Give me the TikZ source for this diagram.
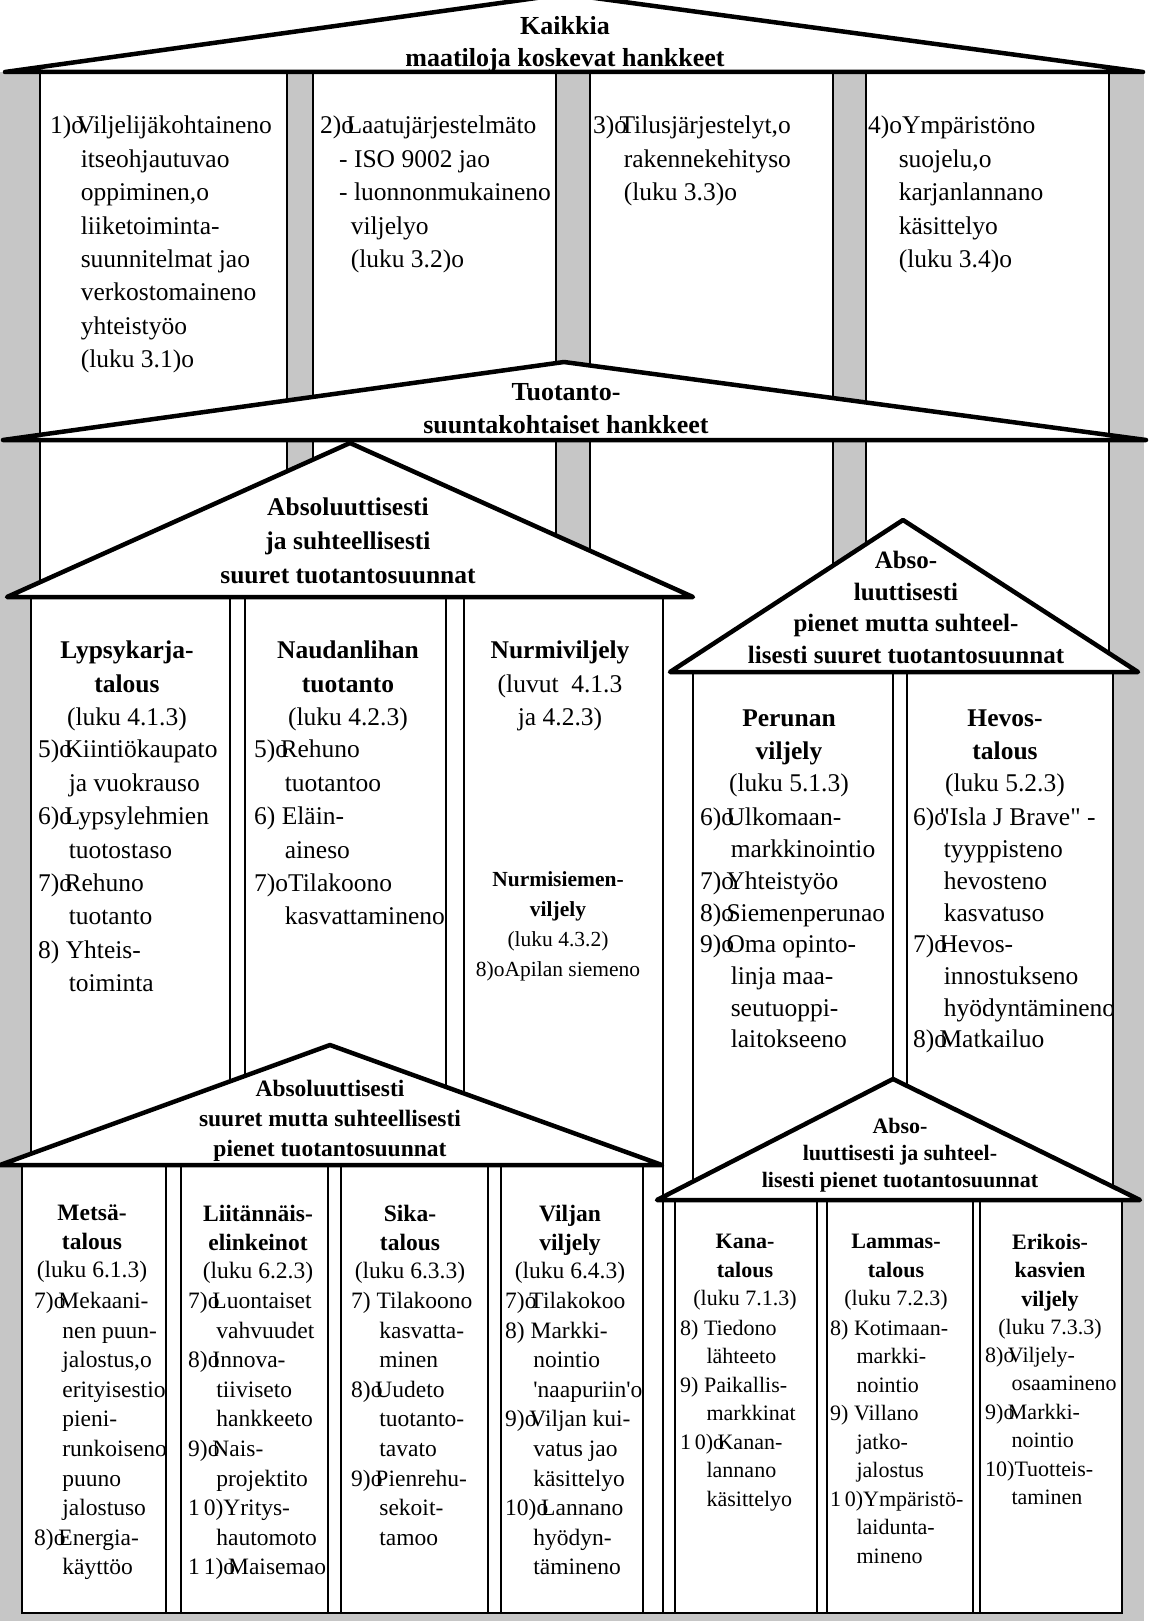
\documentclass[tikz,border=0pt]{standalone}
\usepackage{fontspec}
\setmainfont{Liberation Serif}
\newcommand{\xo}{o\kern-.3em}
\newcommand{\ind}{\hspace*{1.2em}}
\tikzset{
  roof/.style={draw, line width=4.5pt, fill=white, line join=round},
  pillar/.style={draw, line width=2.4pt, fill=white},
  title/.style={anchor=north, align=center, inner sep=0pt, font=\bfseries\fontsize{26}{33}\selectfont},
  heads/.style={anchor=north, align=center, inner sep=0pt, font=\fontsize{25.5}{33.4}\selectfont},
  items/.style={anchor=north west, align=left, inner sep=0pt, font=\fontsize{25.5}{33.4}\selectfont}
}
\begin{document}
\begin{tikzpicture}[x=1pt, y=-1pt]
\useasboundingbox (0,0) rectangle (1152,1621);
\clip (0,0) rectangle (1152,1621);
\coordinate (A1) at (5,72);
\coordinate (B1) at (565,-6);
\coordinate (C1) at (1143,72);
\coordinate (A2) at (3,440);
\coordinate (B2) at (564,362);
\coordinate (C2) at (1146,440);
\coordinate (A3) at (7,597);
\coordinate (B3) at (350,443);
\coordinate (C3) at (693,597);
\coordinate (D3) at (670,672);
\coordinate (E3) at (903,520);
\coordinate (F3) at (1138,672);
\coordinate (A4) at (0,1165);
\coordinate (B4) at (330,1045);
\coordinate (C4) at (662,1165);
\coordinate (D4) at (657,1200);
\coordinate (E4) at (893,1079);
\coordinate (F4) at (1140,1200);
\fill[gray!45] (0,72) rectangle (1144,1621);
\foreach \l/\r in {40/287, 313/556, 590/833, 866/1109}
  \draw[pillar] (\l,72) rectangle (\r,1613);
\draw[roof] (A1) -- (B1) -- (C1) -- cycle;
\draw[roof] (A2) -- (B2) -- (C2) -- cycle;
\foreach \l/\r in {31/230, 245/446, 464/663}
  \draw[pillar] (\l,597) rectangle (\r,1613);
\foreach \l/\r in {693/893, 907/1113}
  \draw[pillar] (\l,672) rectangle (\r,1613);
\draw[roof] (A3) -- (B3) -- (C3) -- cycle;
\draw[roof] (D3) -- (E3) -- (F3) -- cycle;
\foreach \l/\r in {22/166, 181/328, 341/488, 501/643}
  \draw[pillar] (\l,1165) rectangle (\r,1613);
\foreach \l/\r in {675/817, 827/973, 980/1122}
  \draw[pillar] (\l,1200) rectangle (\r,1613);
\draw[roof] (A4) -- (B4) -- (C4) -- cycle;
\draw[roof] (D4) -- (E4) -- (F4) -- cycle;

\node[title, font=\bfseries\fontsize{26}{32}\selectfont] (kaikki) at (565,16) {Kaikkia\\maatiloja koskevat hankkeet};
\node[title] (tuot) at (566,383) {Tuotanto-\\suuntakohtaiset hankkeet};
\node[title, font=\bfseries\fontsize{25.5}{34}\selectfont] (isot) at (348,498) {Absoluuttisesti\\ja suhteellisesti\\suuret tuotantosuunnat};
\node[title, font=\bfseries\fontsize{25}{31.7}\selectfont] (pienet) at (906,551) {Abso-\\luuttisesti\\pienet mutta suhteel-\\lisesti suuret tuotantosuunnat};
\node[title, font=\bfseries\fontsize{23.5}{30}\selectfont] (suuret) at (330,1080) {Absoluuttisesti\\suuret mutta suhteellisesti\\pienet tuotantosuunnat};
\node[title, font=\bfseries\fontsize{22}{27}\selectfont] (pienim) at (900,1118) {Abso-\\luuttisesti ja suhteel-\\lisesti pienet tuotantosuunnat};

\node[items] (h1) at (50,116) {1)\xo Viljelijäkohtaineno\\ \ind itseohjautuvao\\ \ind oppiminen,o\\ \ind liiketoiminta-\\ \ind suunnitelmat jao\\ \ind verkostomaineno\\ \ind yhteistyöo\\ \ind (luku 3.1)o};
\node[items] (h2) at (320,116) {2)\xo Laatujärjestelmäto\\ \hspace*{19pt}- ISO 9002 jao\\ \hspace*{19pt}- luonnonmukaineno\\ \ind viljelyo\\ \ind (luku 3.2)o};
\node[items] (h3) at (593,116) {3)\xo Tilusjärjestelyt,o\\ \ind rakennekehityso\\ \ind (luku 3.3)o};
\node[items] (h4) at (868,116) {4)oYmpäristöno\\ \ind suojelu,o\\ \ind karjanlannano\\ \ind käsittelyo\\ \ind (luku 3.4)o};

\node[heads] (lyp-h) at (127,641) {\textbf{Lypsykarja-}\\\textbf{talous}\\(luku 4.1.3)};
\node[items] (lyp) at (38,740) {5)\xo Kiintiökaupato\\ \ind ja vuokrauso\\6)\xo Lypsylehmien\\ \ind tuotostaso\\7)\xo Rehuno\\ \ind tuotanto\\8) Yhteis-\\ \ind toiminta};
\node[heads] (nau-h) at (348,641) {\textbf{Naudanlihan}\\\textbf{tuotanto}\\(luku 4.2.3)};
\node[items] (nau) at (254,740) {5)\xo Rehuno\\ \ind tuotantoo\\6) Eläin-\\ \ind aineso\\7)oTilakoono\\ \ind kasvattamineno};
\node[heads] (nur-h) at (560,641) {\textbf{Nurmiviljely}\\(luvut\ \ 4.1.3\\ja 4.2.3)};
\node[heads, font=\fontsize{21.5}{30}\selectfont] (nur) at (558,871) {\textbf{Nurmisiemen-}\\\textbf{viljely}\\(luku 4.3.2)\\8)oApilan siemeno};

\node[heads, font=\fontsize{25.5}{32.5}\selectfont] (per-h) at (789,710) {\textbf{Perunan}\\\textbf{viljely}\\(luku 5.1.3)};
\node[items, font=\fontsize{25.5}{31.7}\selectfont] (per) at (700,808) {6)\xo Ulkomaan-\\ \ind markkinointio\\7)\xo Yhteistyöo\\8)\xo Siemenperunao\\9)\xo Oma opinto-\\ \ind linja maa-\\ \ind seutuoppi-\\ \ind laitokseeno};
\node[heads, font=\fontsize{25.5}{32.5}\selectfont] (hev-h) at (1005,710) {\textbf{Hevos-}\\\textbf{talous}\\(luku 5.2.3)};
\node[items, font=\fontsize{25.5}{31.7}\selectfont] (hev) at (913,808) {6)\xo\textquotedbl Isla J Brave\textquotedbl{} -\\ \ind tyyppisteno\\ \ind hevosteno\\ \ind kasvatuso\\7)\xo Hevos-\\ \ind innostukseno\\ \ind hyödyntämineno\\8)\xo Matkailuo};

\tikzset{heads/.append style={font=\fontsize{23.5}{28.5}\selectfont},
  items/.append style={font=\fontsize{23.5}{29.6}\selectfont}}
\node[heads] (met-h) at (92,1205) {\textbf{Metsä-}\\\textbf{talous}\\(luku 6.1.3)};
\node[items] (met) at (34,1292) {7)\xo Mekaani-\\ \ind nen puun-\\ \ind jalostus,o\\ \ind erityisestio\\ \ind pieni-\\ \ind runkoiseno\\ \ind puuno\\ \ind jalostuso\\8)\xo Energia-\\ \ind käyttöo};
\node[heads] (lii-h) at (258,1205) {\textbf{Liitännäis-}\\\textbf{elinkeinot}\\(luku 6.2.3)};
\node[items] (lii) at (188,1292) {7)\xo Luontaiset\\ \ind vahvuudet\\8)\xo Innova-\\ \ind tiiviseto\\ \ind hankkeeto\\9)\xo Nais-\\ \ind projektito\\1\,0)Yritys-\\ \ind hautomoto\\1\,1)\xo Maisemao};
\node[heads] (sik-h) at (410,1205) {\textbf{Sika-}\\\textbf{talous}\\(luku 6.3.3)};
\node[items] (sik) at (351,1292) {7) Tilakoono\\ \ind kasvatta-\\ \ind minen\\8)\xo Uudeto\\ \ind tuotanto-\\ \ind tavato\\9)\xo Pienrehu-\\ \ind sekoit-\\ \ind tamoo};
\node[heads] (vil-h) at (570,1205) {\textbf{Viljan}\\\textbf{viljely}\\(luku 6.4.3)};
\node[items] (vil) at (505,1292) {7)\xo Tilakokoo\\8) Markki-\\ \ind nointio\\ \ind \textquotesingle naapuriin\textquotesingle o\\9)\xo Viljan kui-\\ \ind vatus jao\\ \ind käsittelyo\\10)\xo Lannano\\ \ind hyödyn-\\ \ind tämineno};

\tikzset{heads/.append style={font=\fontsize{22}{28.5}\selectfont},
  items/.append style={font=\fontsize{22}{28.5}\selectfont}}
\node[heads] (kan-h) at (745,1234) {\textbf{Kana-}\\\textbf{talous}\\(luku 7.1.3)};
\node[items] (kan) at (680,1320) {8) Tiedono\\ \ind lähteeto\\9) Paikallis-\\ \ind markkinat\\1\,0)\xo Kanan-\\ \ind lannano\\ \ind käsittelyo};
\node[heads] (lam-h) at (896,1234) {\textbf{Lammas-}\\\textbf{talous}\\(luku 7.2.3)};
\node[items] (lam) at (830,1320) {8) Kotimaan-\\ \ind markki-\\ \ind nointio\\9) Villano\\ \ind jatko-\\ \ind jalostus\\1\,0)Ympäristö-\\ \ind laidunta-\\ \ind mineno};
\node[heads] (eri-h) at (1050,1234) {\textbf{Erikois-}\\\textbf{kasvien}\\\textbf{viljely}\\(luku 7.3.3)};
\node[items] (eri) at (985,1347) {8)\xo Viljely-\\ \ind osaamineno\\9)\xo Markki-\\ \ind nointio\\10)Tuotteis-\\ \ind taminen};
\end{tikzpicture}
\end{document}
